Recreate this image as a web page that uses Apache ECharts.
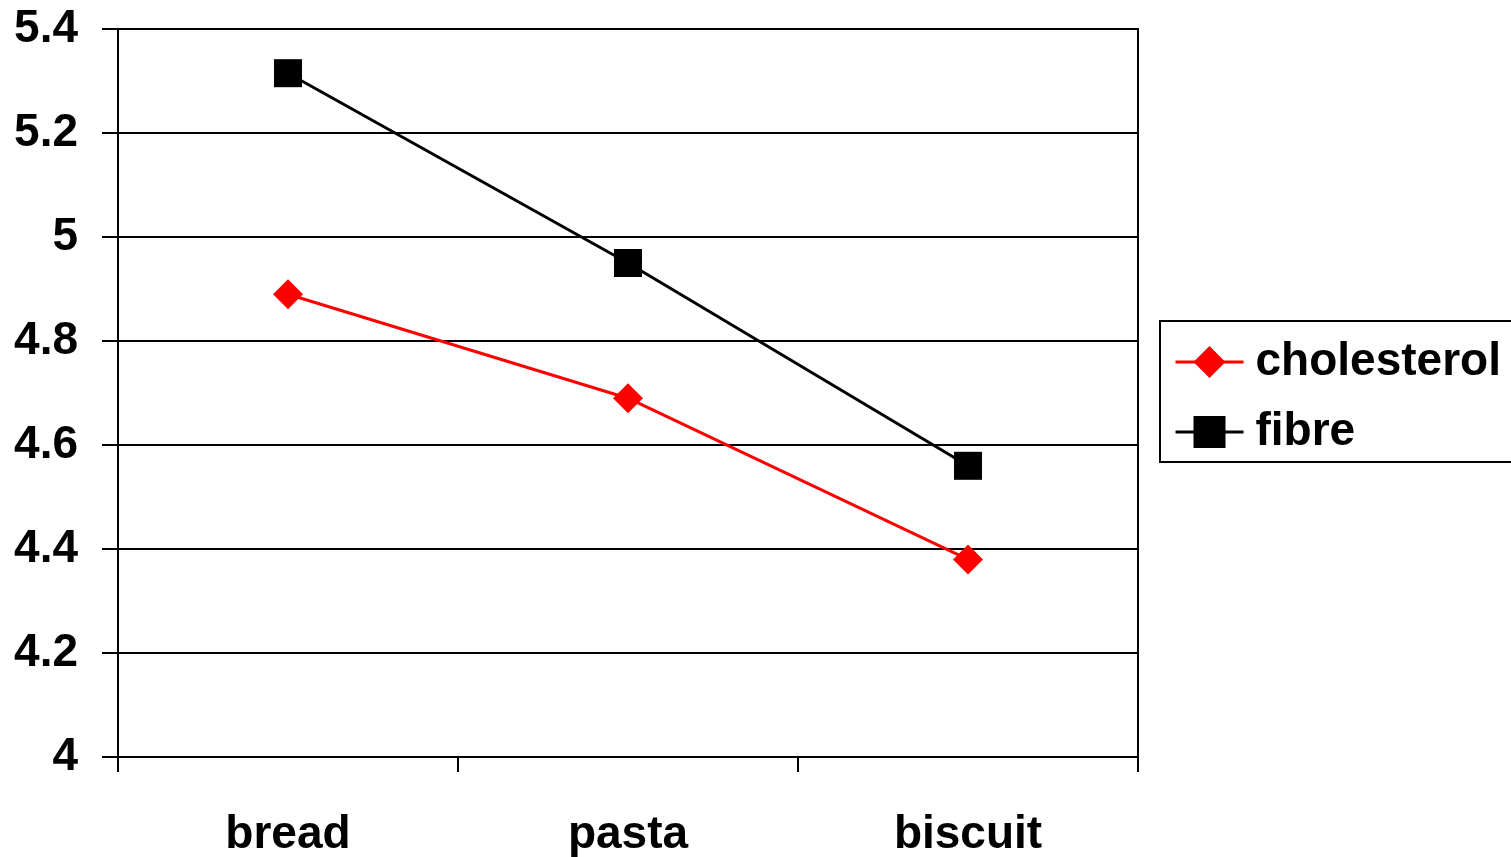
<!DOCTYPE html>
<html>
<head>
<meta charset="utf-8">
<script src="https://cdn.jsdelivr.net/npm/echarts@6/dist/echarts.min.js"></script>
<style>html,body{margin:0;padding:0;background:#fff;}#c{width:1511px;height:857px;}</style>
</head>
<body>
<div id="c"></div>
<script>
const categories = ['bread', 'pasta', 'biscuit'];
const cholesterol = [4.89, 4.69, 4.38];
const fibre = [5.315, 4.95, 4.56];
const seriesNames = ['cholesterol', 'fibre'];

const FONT = '"Liberation Sans", Arial, sans-serif';
const chart = echarts.init(document.getElementById('c'), null, {renderer: 'canvas'});
chart.setOption({
  backgroundColor: '#fff',
  animation: false,
  grid: {
    left: 118, right: 373, top: 29, bottom: 100,
    outerBoundsMode: 'none', containLabel: false,
    show: true, borderColor: '#000', borderWidth: 2, backgroundColor: 'transparent'
  },
  legend: {
    orient: 'vertical',
    left: 1160, top: 321,
    data: seriesNames,
    itemWidth: 68, itemHeight: 40, itemGap: 24,
    padding: [18, 40, 7, 14],
    borderColor: '#000', borderWidth: 2,
    lineStyle: {width: 3},
    textStyle: {fontFamily: FONT, fontWeight: 'bold', fontSize: 46, color: '#000', lineHeight: 46, padding: [0,0,0,7]}
  },
  xAxis: {
    type: 'category',
    data: categories,
    boundaryGap: true,
    axisLine: {lineStyle: {color: '#000', width: 2}},
    axisTick: {show: true, length: 15, lineStyle: {color: '#000', width: 2}},
    axisLabel: {fontFamily: FONT, fontWeight: 'bold', fontSize: 46, color: '#000', margin: 55},
    splitLine: {show: false}
  },
  yAxis: {
    type: 'value',
    min: 4, max: 5.4, interval: 0.2,
    axisLine: {show: true, lineStyle: {color: '#000', width: 2}},
    axisTick: {show: true, length: 16, lineStyle: {color: '#000', width: 2}},
    axisLabel: {fontFamily: FONT, fontWeight: 'bold', fontSize: 46, color: '#000', margin: 40,
      formatter: v => String(Math.round(v * 10) / 10)},
    splitLine: {show: true, lineStyle: {color: '#000', width: 2}}
  },
  series: [
    {
      name: 'cholesterol', type: 'line', data: cholesterol,
      symbol: 'diamond', symbolSize: 30,
      lineStyle: {color: '#ff0000', width: 3},
      itemStyle: {color: '#ff0000'}
    },
    {
      name: 'fibre', type: 'line', data: fibre,
      symbol: 'rect', symbolSize: 28,
      lineStyle: {color: '#000', width: 3},
      itemStyle: {color: '#000'}
    }
  ]
});
</script>
</body>
</html>
